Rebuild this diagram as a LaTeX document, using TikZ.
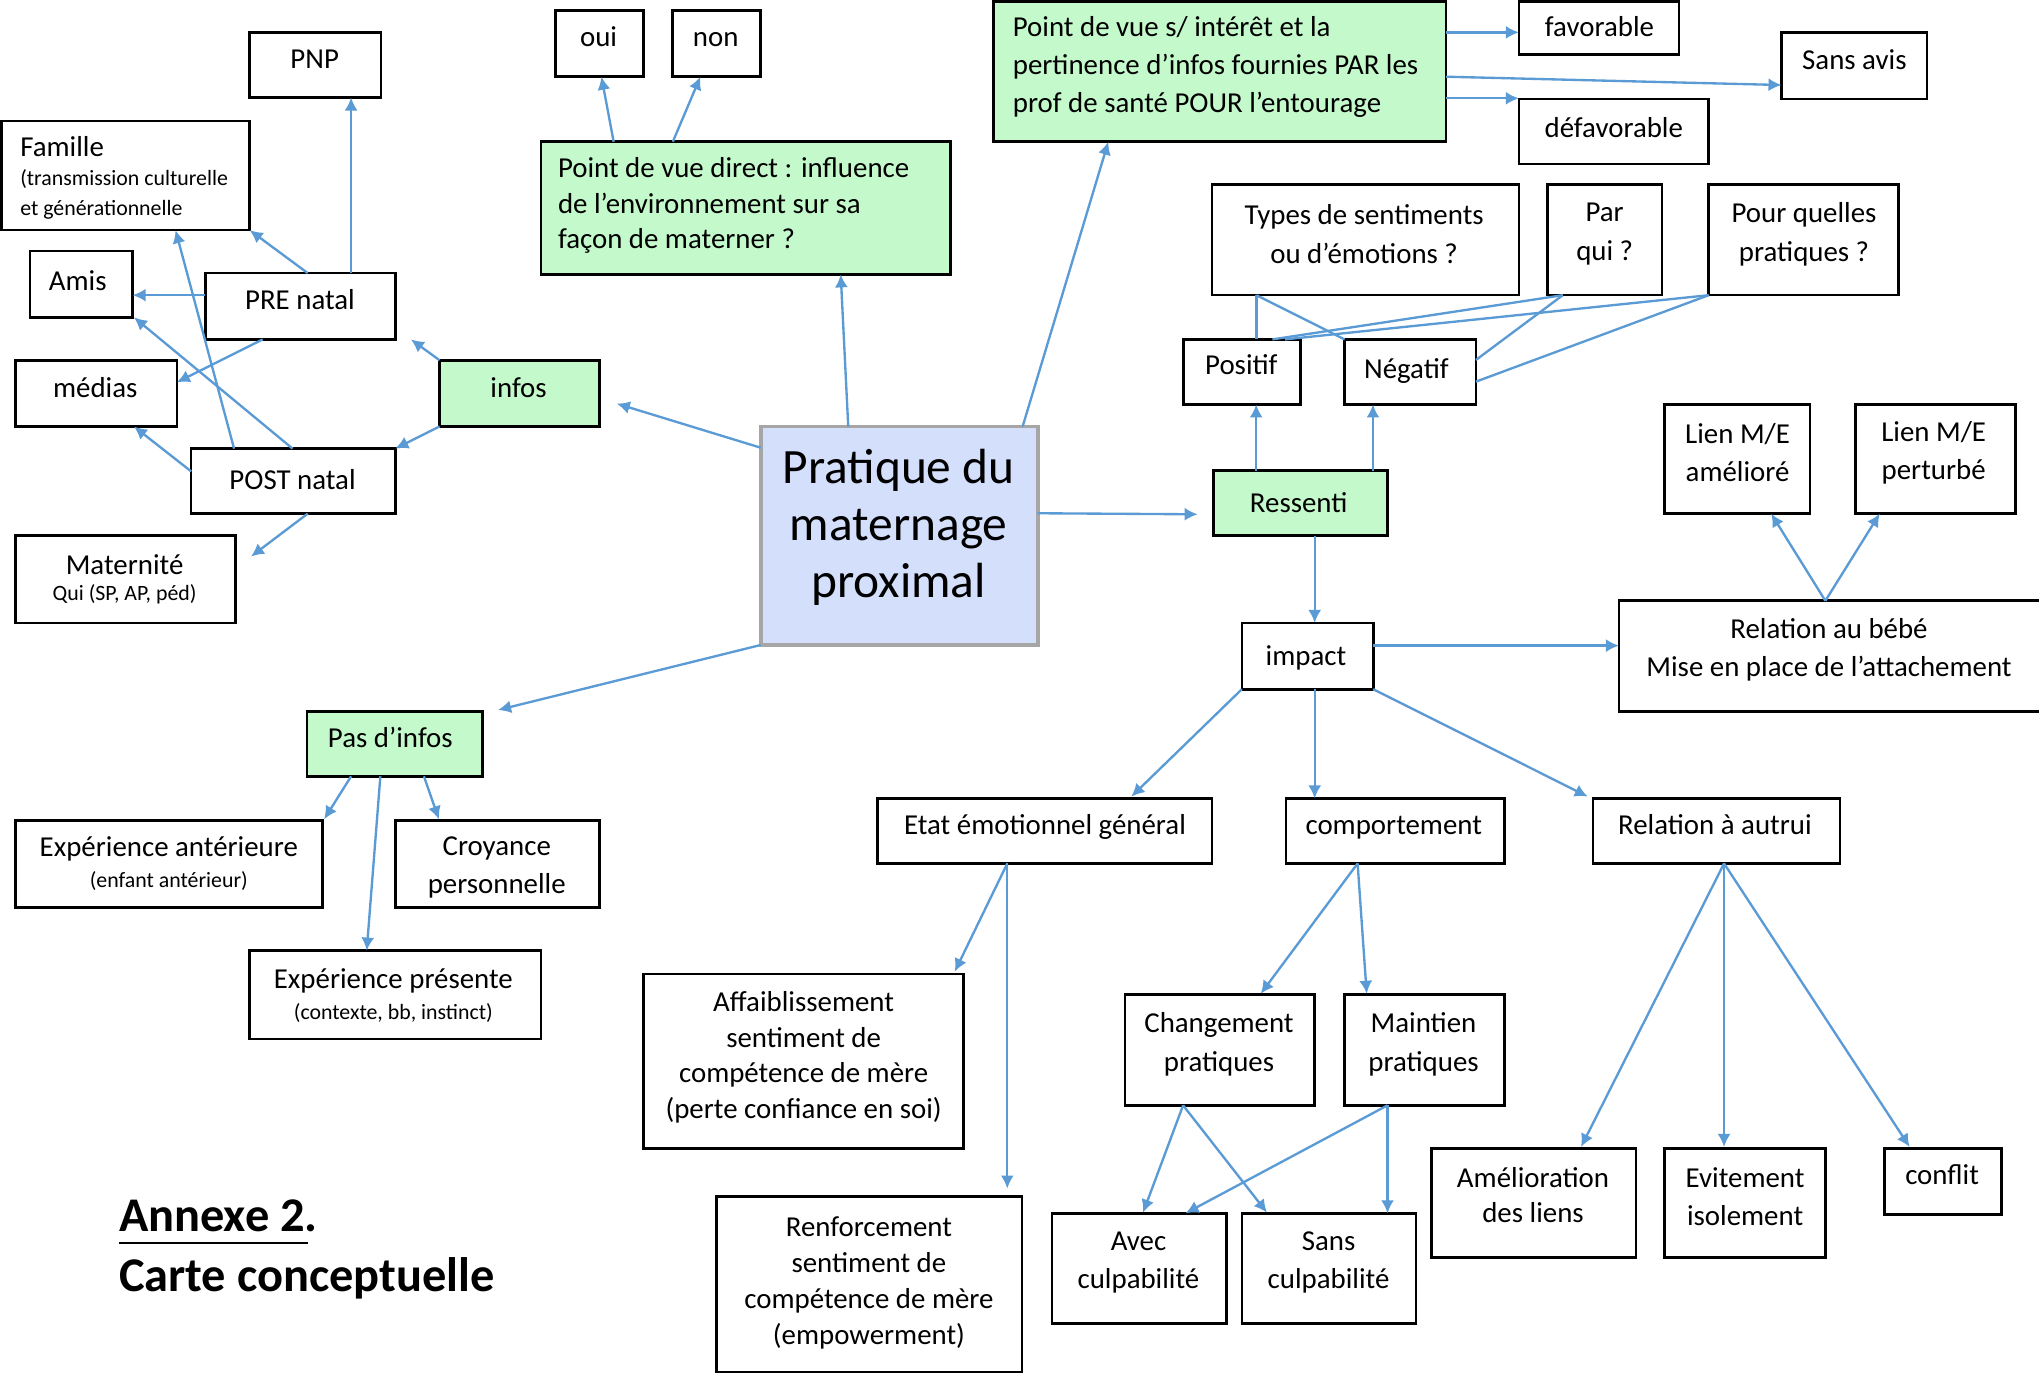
\documentclass[tikz,border=0pt]{standalone}
\usepackage{fontspec}
\setmainfont{Carlito}
\usetikzlibrary{arrows.meta,calc,fit}
\definecolor{lnblue}{HTML}{5B9BD5}
\definecolor{boxgreen}{HTML}{C4F9CB}
\definecolor{boxblue}{HTML}{D3DFFB}
\definecolor{boxgray}{HTML}{A6A6A6}
\tikzset{
  bx/.style={draw=black, line width=1pt, inner sep=0pt, outer sep=0pt},
  gbx/.style={bx, fill=boxgreen},
  fs/.style 2 args={font=\fontsize{#1}{#2}\selectfont},
  tx/.style={inner sep=0pt, fs={11.1}{13.7}, text height=8.8pt, text depth=1.2pt},
  sm/.style={inner sep=0pt, fs={8.4}{11.3}, text height=6.5pt, text depth=1.1pt},
  mt/.style={inner sep=0pt, align=center, yshift=-0.8pt},
  arr/.style={draw=lnblue, line width=0.9pt, -{Latex[length=5pt,width=5pt]}},
  ln/.style={draw=lnblue, line width=0.9pt},
}
\begin{document}
\begin{tikzpicture}[x=0.5pt, y=-0.5pt]
\useasboundingbox (0,0) rectangle (1568,1058);
\fill[white] (0,0) rectangle (1568,1058);

% ---------- boxes ----------
\node[bx, fit={(192,25)(293,75)}] (pnp) {};
\node[bx, fit={(1,93)(192,177)}] (fam) {};
\node[bx, fit={(23,193)(102,244)}] (amis) {};
\node[bx, fit={(158,210)(304,261)}] (pre) {};
\node[bx, fit={(12,277)(136,328)}] (med) {};
\node[gbx, fit={(338,277)(461,328)}] (infos) {};
\node[bx, fit={(147,345)(304,395)}] (post) {};
\node[bx, fit={(12,412)(181,479)}] (mat) {};
\node[bx, fit={(427,8)(495,59)}] (oui) {};
\node[bx, fit={(517,8)(585,59)}] (non) {};
\node[gbx, fit={(416,109)(731,211)}] (pdvd) {};
\node[gbx, fit={(764,1)(1112,109)}] (pdvs) {};
\node[bx, fit={(1168,1)(1291,42)}] (fav) {};
\node[bx, fit={(1370,25)(1482,76)}] (sans) {};
\node[bx, fit={(1168,76)(1314,126)}] (defav) {};
\node[bx, fit={(932,142)(1168,227)}] (types) {};
\node[bx, fit={(1190,142)(1278,227)}] (par) {};
\node[bx, fit={(1314,142)(1460,227)}] (pour) {};
\node[bx, fit={(910,261)(1000,311)}] (pos) {};
\node[bx, fit={(1034,261)(1135,311)}] (neg) {};
\node[bx, fit={(1280,311)(1392,395)}] (lam) {};
\node[bx, fit={(1427,311)(1550,395)}] (lpe) {};
\node[draw=boxgray, fill=boxblue, line width=1.4pt, inner sep=0pt, outer sep=0pt, fit={(585,328)(798,496)}] (prat) {};
\node[gbx, fit={(933,362)(1067,412)}] (res) {};
\node[bx, fit={(955,479)(1056,530)}] (imp) {};
\node[bx, fit={(1245,462)(1574,547)}] (rbb) {};
\node[gbx, fit={(236,547)(371,597)}] (pdi) {};
\node[bx, fit={(12,631)(248,698)}] (expa) {};
\node[bx, fit={(304,631)(461,698)}] (croy) {};
\node[bx, fit={(192,731)(416,799)}] (expp) {};
\node[bx, fit={(675,614)(932,664)}] (etat) {};
\node[bx, fit={(989,614)(1157,664)}] (comp) {};
\node[bx, fit={(1225,614)(1415,664)}] (rau) {};
\node[bx, fit={(495,749)(741,883)}] (aff) {};
\node[bx, fit={(551,920)(786,1055)}] (ren) {};
\node[bx, fit={(865,765)(1011,850)}] (chg) {};
\node[bx, fit={(1034,765)(1157,850)}] (mai) {};
\node[bx, fit={(809,933)(943,1018)}] (avec) {};
\node[bx, fit={(955,933)(1089,1018)}] (sansc) {};
\node[bx, fit={(1101,883)(1258,967)}] (amel) {};
\node[bx, fit={(1280,883)(1404,967)}] (evit) {};
\node[bx, fit={(1449,883)(1539,934)}] (conf) {};

% ---------- texts ----------
\node[tx] (pnp-t) at (242,45) {PNP};
\node[tx, anchor=west] (fam-t) at (15.2,112.6) {Famille};
\node[mt, align=left, anchor=west, fs={8.4}{11.3}] (fam-s) at (15.2,148) {(transmission culturelle\\et générationnelle};
\node[tx] (amis-t) at (59.8,215.6) {Amis};
\node[tx] (pre-t) at (230.7,230.7) {PRE natal};
\node[tx] (med-t) at (73.3,298) {médias};
\node[tx] (infos-t) at (398.8,298) {infos};
\node[tx] (post-t) at (225,368.8) {POST natal};
\node[tx] (mat-t) at (95.8,434.5) {Maternité};
\node[sm] (mat-s) at (95.8,456.3) {Qui (SP, AP, péd)};
\node[tx] (oui-t) at (460.3,28.2) {oui};
\node[tx] (non-t) at (550.4,28.2) {non};
\node[mt, align=left, anchor=west, fs={11.1}{13.5}] (pdvd-t) at (428.7,156.4) {Point de vue direct : influence\\de l’environnement sur sa\\façon de materner ?};
\node[mt, align=left, anchor=west, fs={11.1}{14.75}] (pdvs-t) at (778.5,50) {Point de vue s/ intérêt et la\\pertinence d’infos fournies PAR les\\prof de santé POUR l’entourage};
\node[tx] (fav-t) at (1230,20.5) {favorable};
\node[tx] (sans-t) at (1426,46) {Sans avis};
\node[tx] (defav-t) at (1241,98) {défavorable};
\node[mt, fs={11.1}{15}] (types-t) at (1049,178.5) {Types de sentiments\\ou d’émotions ?};
\node[mt, fs={11.1}{15}] (par-t) at (1234,178.5) {Par\\qui ?};
\node[mt, fs={11.1}{15}] (pour-t) at (1387.3,178.5) {Pour quelles\\pratiques ?};
\node[tx] (pos-t) at (954.6,280.7) {Positif};
\node[tx] (neg-t) at (1081.5,283.2) {Négatif};
\node[mt, fs={11.1}{14.7}] (lam-t) at (1336.2,346.7) {Lien M/E\\amélioré};
\node[mt, fs={11.1}{14.7}] (lpe-t) at (1487,346.7) {Lien M/E\\perturbé};
\node[mt, fs={19}{22}] (prat-t) at (691,404) {Pratique du\\maternage\\proximal};
\node[tx] (res-t) at (998.7,386.3) {Ressenti};
\node[tx] (imp-t) at (1004.3,504.5) {impact};
\node[mt, fs={11.1}{14.75}] (rbb-t) at (1406.5,498) {Relation au bébé\\Mise en place de l’attachement};
\node[tx, anchor=west] (pdi-t) at (251.8,567) {Pas d’infos};
\node[tx] (expa-t) at (129.8,651) {Expérience antérieure};
\node[sm] (expa-s) at (129.8,677.3) {(enfant antérieur)};
\node[mt, fs={11.1}{14.5}] (croy-t) at (382,665.5) {Croyance\\personnelle};
\node[tx] (expp-t) at (302.5,752.3) {Expérience présente};
\node[sm] (expp-s) at (302.5,778.8) {(contexte, bb, instinct)};
\node[tx] (etat-t) at (803.6,634.4) {Etat émotionnel général};
\node[tx] (comp-t) at (1071.8,634.4) {comportement};
\node[tx] (rau-t) at (1318.8,634.4) {Relation à autrui};
\node[mt, fs={11.1}{13.6}] (aff-t) at (618,811.5) {Affaiblissement\\sentiment de\\compétence de mère\\(perte confiance en soi)};
\node[mt, fs={11.1}{13.9}] (ren-t) at (668.2,984.8) {Renforcement\\sentiment de\\compétence de mère\\(empowerment)};
\node[mt, fs={11.1}{15.1}] (chg-t) at (937.4,801.7) {Changement\\pratiques};
\node[mt, fs={11.1}{15.1}] (mai-t) at (1094.7,801.7) {Maintien\\pratiques};
\node[mt, fs={11.1}{14.45}] (avec-t) at (875.5,969.4) {Avec\\culpabilité};
\node[mt, fs={11.1}{14.45}] (sansc-t) at (1021.7,969.4) {Sans\\culpabilité};
\node[mt, fs={11.1}{13.8}] (amel-t) at (1178.9,917.4) {Amélioration\\des liens};
\node[mt, fs={11.1}{14.9}] (evit-t) at (1342,918.7) {Evitement\\isolement};
\node[tx] (conf-t) at (1493.5,903.6) {conflit};

% title
\node[anchor=base west, inner sep=0pt, font=\fontsize{18.6}{23}\selectfont\bfseries] (ann) at (91.2,947) {Annexe 2.};
\node[anchor=base west, inner sep=0pt, font=\fontsize{18.6}{23}\selectfont\bfseries] (carte) at (91.2,993.3) {Carte conceptuelle};
\draw[line width=1pt] ($(ann.base west)+(0,9)$) -- ($(ann.base west)+(146,9)$);

% ---------- connectors ----------
\draw[arr] ($(pre.north west)+(112,0)$) -- ($(pnp.north west)+(78,50)$);
\draw[arr] ($(pre.north west)+(78.6,0)$) -- (fam.south east);
\draw[arr] ($(pre.north west)+(0,17)$) -- ($(amis.north west)+(79,34)$);
\draw[arr] ($(pre.north west)+(44,51)$) -- ($(med.north west)+(124,17)$);
\draw[arr] ($(post.north west)+(33,0)$) -- ($(fam.north west)+(134,84)$);
\draw[arr] ($(post.north west)+(78,0)$) -- ($(amis.north west)+(80,51)$);
\draw[arr] ($(post.north west)+(0,17.5)$) -- ($(med.north west)+(91,51)$);
\draw[arr] ($(post.north west)+(89.6,50)$) -- ($(mat.north west)+(181,16)$);
\draw[arr] (infos.north west) -- ($(pre.south east)+(12,0)$);
\draw[arr] (infos.south west) -- (post.north east);

\draw[arr] ($(prat.north west)+(67.3,0)$) -- ($(pdvd.north west)+(230.5,102)$);
\draw[arr] ($(prat.north west)+(201.4,0)$) -- ($(pdvs.north west)+(88.3,108)$);
\draw[arr] ($(prat.north west)+(0,16.3)$) -- ($(infos.north west)+(136.3,33.4)$);
\draw[arr] (prat.south west) -- ($(pdi.north west)+(147,-1)$);
\draw[arr] ($(prat.north west)+(213,66.7)$) -- ($(res.north west)+(-12,33.5)$);

\draw[arr] ($(pdvd.north west)+(55.9,0)$) -- ($(oui.north west)+(35.5,51)$);
\draw[arr] ($(pdvd.north west)+(101.4,0)$) -- ($(non.north west)+(21.6,51)$);
\draw[arr] ($(pdvs.north west)+(348,23.9)$) -- ($(fav.north west)+(0,23.9)$);
\draw[arr] ($(pdvs.north west)+(348,58)$) -- ($(sans.north west)+(0,40.4)$);
\draw[arr] ($(pdvs.north west)+(348,74.6)$) -- ($(defav.north west)+(0,-0.4)$);

\draw[arr] ($(res.north west)+(33,0)$) -- ($(pos.north west)+(56,50)$);
\draw[arr] ($(res.north west)+(122.8,0)$) -- ($(neg.north west)+(21.8,50)$);
\draw[arr] ($(res.north west)+(78,50)$) -- ($(imp.north west)+(56,0)$);
\draw[arr] ($(imp.north west)+(101,17.5)$) -- ($(rbb.north west)+(0,34.5)$);
\draw[arr] ($(rbb.north west)+(158.7,0)$) -- ($(lam.north west)+(82,84)$);
\draw[arr] ($(rbb.north west)+(158.7,0)$) -- ($(lpe.north west)+(18.5,84)$);

\draw[arr] (imp.south west) -- ($(etat.north west)+(195,-1.4)$);
\draw[arr] ($(imp.north west)+(56,51)$) -- ($(comp.north west)+(22,0)$);
\draw[arr] (imp.south east) -- ($(rau.north west)+(-4,-1.4)$);

\draw[arr] ($(etat.north west)+(99.6,50)$) -- ($(aff.north west)+(239.2,-1.8)$);
\draw[arr] ($(etat.north west)+(99.6,50)$) -- ($(ren.north west)+(223.6,-6)$);
\draw[arr] ($(comp.north west)+(55,50)$) -- ($(chg.north west)+(104.5,-0.8)$);
\draw[arr] ($(comp.north west)+(55,50)$) -- ($(mai.north west)+(17,-0.8)$);
\draw[arr] ($(chg.north west)+(44.8,85)$) -- ($(avec.north west)+(70,-0.5)$);
\draw[arr] ($(chg.north west)+(44.8,85)$) -- ($(sansc.north west)+(19.3,-0.5)$);
\draw[arr] ($(mai.north west)+(33,85)$) -- ($(avec.north west)+(102.7,0)$);
\draw[arr] ($(mai.north west)+(33,85)$) -- ($(sansc.north west)+(112,0)$);
\draw[arr] ($(rau.north west)+(100.8,50)$) -- ($(amel.north west)+(114.8,-1)$);
\draw[arr] ($(rau.north west)+(100.8,50)$) -- ($(evit.north west)+(45.8,-1)$);
\draw[arr] ($(rau.north west)+(100.8,50)$) -- ($(conf.north west)+(19.5,-1)$);

\draw[arr] ($(pdi.north west)+(34,50)$) -- ($(expa.north west)+(237.3,-1)$);
\draw[arr] ($(pdi.north west)+(56.5,50)$) -- ($(expp.north west)+(90,0)$);
\draw[arr] ($(pdi.north west)+(90,50)$) -- ($(croy.north west)+(33.5,-1)$);

\draw[ln] ($(types.north west)+(34.2,85)$) -- ($(pos.north west)+(56.2,0)$);
\draw[ln] ($(types.north west)+(34.2,85)$) -- (neg.north west);
\draw[ln] ($(par.north west)+(11.8,85)$) -- ($(pos.north west)+(68.5,0)$);
\draw[ln] ($(par.north west)+(11.8,85)$) -- ($(neg.north west)+(101,15.8)$);
\draw[ln] (pour.south west) -- ($(pos.north west)+(78.2,0)$);
\draw[ln] (pour.south west) -- ($(neg.north west)+(101,32.5)$);
\end{tikzpicture}
\end{document}
